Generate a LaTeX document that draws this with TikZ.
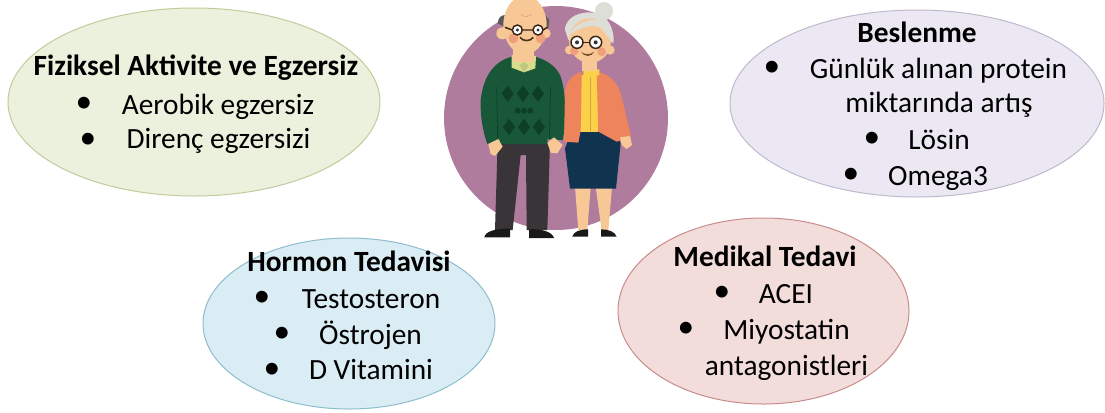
\documentclass[tikz,border=0pt]{standalone}
\usepackage{fontspec}
\setmainfont{Carlito}
\definecolor{skinc}{RGB}{247,200,150}
\definecolor{blushc}{RGB}{238,160,125}
\definecolor{sweaterc}{RGB}{24,88,56}
\definecolor{diamondc}{RGB}{14,62,38}
\definecolor{collarc}{RGB}{214,222,140}
\definecolor{trousersc}{RGB}{56,52,56}
\definecolor{cardiganc}{RGB}{238,132,92}
\definecolor{blousec}{RGB}{252,208,72}
\definecolor{skirtc}{RGB}{16,52,80}
\definecolor{hairc}{RGB}{222,222,216}
\definecolor{greenb}{RGB}{236,241,222}
\definecolor{greene}{RGB}{190,205,155}
\definecolor{purpleb}{RGB}{236,232,243}
\definecolor{purplee}{RGB}{190,185,205}
\definecolor{blueb}{RGB}{219,237,244}
\definecolor{bluee}{RGB}{140,190,205}
\definecolor{redb}{RGB}{243,221,219}
\definecolor{rede}{RGB}{200,140,140}
\tikzset{
  bubble/.style 2 args={draw=#2,fill=#1,line width=0.75pt},
  itemtext/.style={font=\fontsize{22pt}{24pt}\selectfont,inner sep=0pt,anchor=base},
  titletext/.style={itemtext,font=\fontsize{22pt}{24pt}\selectfont\bfseries},
  dotmark/.style={font=\fontsize{25pt}{25pt}\selectfont,inner sep=0pt},
  spec/.style={draw=black!70!brown,line width=1.1pt,fill=white},
}
\newcommand{\tile}[2]{\fill[diamondc] (#1-18,#2) -- (#1,#2-25) -- (#1+18,#2) -- (#1,#2+25) -- cycle;}
\begin{document}
\begin{tikzpicture}[x=0.75pt,y=0.75pt,yscale=-1]
\useasboundingbox (0,0) rectangle (1105,412);

%Backdrop disc
\fill [color={rgb, 255:red, 176; green, 124; blue, 158 }] (556,118) circle [radius=112];

%Bubbles
\draw [bubble={greenb}{greene}] (194,102) ellipse [x radius=186,y radius=94];
\draw [bubble={purpleb}{purplee}] (917,103.5) ellipse [x radius=187,y radius=93.5];
\draw [bubble={blueb}{bluee}] (349,323.5) ellipse [x radius=146,y radius=85.5];
\draw [bubble={redb}{rede}] (763.5,311) ellipse [x radius=145.5,y radius=93];

%Couple
\begin{scope}[shift={(430,0)},x=0.25pt,y=0.25pt]
%man legs and shoes
\fill [trousersc] (203,425) -- (360,425) -- (352,690) -- (290,690) -- (288,465) -- (272,465) -- (248,690) -- (195,690) -- cycle;
\fill [black!90] (163,712) .. controls (165,695) and (195,685) .. (240,686) -- (240,712) -- cycle;
\fill [black!90] (297,688) .. controls (330,685) and (368,695) .. (372,714) -- (297,714) -- cycle;
%man jumper
\fill [sweaterc] (245,170) .. controls (190,185) and (160,230) .. (152,300) .. controls (150,350) and (160,400) .. (172,432) -- (208,418) -- (208,432) -- (352,432) -- (352,418) -- (398,420) .. controls (410,360) and (408,270) .. (390,225) .. controls (375,195) and (345,178) .. (315,170) -- cycle;
\draw [diamondc,line width=0.5pt] (200,260) -- (203,418) (362,260) -- (358,418);
\tile{233}{281}\tile{279}{281}\tile{324}{281}
\tile{237}{381}\tile{282}{381}\tile{327}{381}
\fill [diamondc] (263,332) circle [radius=9] (282,332) circle [radius=9] (301,332) circle [radius=9];
%man collar
\fill [collarc] (245,165) -- (318,168) -- (316,205) -- (282,217) -- (245,203) -- cycle;
\fill [collarc!90!black] (268,196) -- (282,187) -- (296,196) -- (282,217) -- cycle;
%man hands
\fill [skinc] (175,432) -- (205,417) -- (218,440) -- (195,468) -- (182,462) -- cycle;
\fill [skinc] (352,428) -- (372,412) -- (398,435) -- (382,460) -- (362,458) -- cycle;
%man head
\fill [skinc] (250,130) rectangle (312,185);
\fill [gray!70!black] (203,70) .. controls (205,50) and (215,45) .. (228,45) -- (235,85) -- cycle;
\fill [gray!70!black] (345,45) -- (358,60) -- (355,85) -- (345,85) -- cycle;
\fill [skinc] (217,100) circle [radius=18] (347,100) circle [radius=15];
\fill [skinc] (285,75) ellipse [x radius=65,y radius=88];
\fill [blushc] (250,115) circle [radius=15] (332,115) circle [radius=15];
\draw [spec] (262,90) circle [radius=15] (324,90) circle [radius=15];
\draw [spec] (277,90) -- (309,90) (247,90) -- (225,82) (339,90) -- (352,82);
\fill [black!80] (262,90) circle [radius=5] (324,90) circle [radius=5];
\draw [black!60!brown,line width=1.2pt] (270,112) .. controls (280,125) and (300,125) .. (310,112);
\draw [blushc,line width=0.6pt] (272,42) .. controls (282,52) and (295,52) .. (305,42);
%woman legs and shoes
\fill [skinc] (435,560) -- (482,560) -- (472,692) -- (445,692) -- cycle;
\fill [skinc] (497,560) -- (546,560) -- (535,692) -- (515,692) -- cycle;
\fill [black!90] (427,710) .. controls (430,695) and (450,688) .. (474,688) -- (474,710) -- cycle;
\fill [black!90] (513,688) .. controls (535,688) and (555,695) .. (560,710) -- (513,710) -- cycle;
%woman skirt
\fill [skirtc] (425,395) -- (555,395) -- (572,430) -- (558,566) -- (420,566) -- (405,445) -- cycle;
%woman top
\fill [blousec] (450,225) rectangle (505,395);
\draw [blousec!80!black,line width=0.6pt] (480,232) -- (480,392);
\fill [cardiganc] (455,215) .. controls (425,225) and (408,245) .. (405,275) -- (402,425) -- (445,428) -- (452,392) -- (455,240) -- cycle;
\fill [cardiganc] (500,215) .. controls (540,222) and (565,250) .. (575,290) -- (603,410) -- (570,422) -- (560,425) -- (505,395) -- cycle;
\fill [skinc] (570,412) -- (600,408) -- (606,435) -- (590,447) -- (575,435) -- cycle;
\fill [blousec] (460,208) -- (508,208) -- (508,225) -- (484,233) -- (460,225) -- cycle;
%woman head
\fill [skinc] (455,170) rectangle (500,212);
\fill [skinc] (418,150) circle [radius=13] (540,150) circle [radius=14];
\fill [hairc] (522,33) circle [radius=27];
\fill [hairc] (405,90) .. controls (405,45) and (470,25) .. (515,45) .. controls (540,60) and (555,100) .. (550,130) -- (480,80) -- (415,120) -- cycle;
\fill [skinc] (480,122) ellipse [x radius=63,y radius=67];
\fill [hairc] (420,105) .. controls (430,70) and (480,55) .. (510,60) .. controls (535,75) and (545,100) .. (545,125) -- (515,85) .. controls (490,70) and (450,80) .. (420,105) -- cycle;
\fill [blushc] (433,153) circle [radius=13] (515,155) circle [radius=13];
\draw [spec] (441,127) circle [radius=18] (497,127) circle [radius=18];
\draw [spec] (459,127) -- (479,127);
\fill [black!80] (441,127) circle [radius=6] (497,127) circle [radius=6];
\fill [brown!60!black] (453,155) .. controls (465,165) and (480,165) .. (493,155) .. controls (485,172) and (462,172) .. (453,155) -- cycle;
\end{scope}

% Text Node
\node (fizTitle) [titletext] at (196,75) {Fiziksel Aktivite ve Egzersiz};
\node (fizA) [itemtext] at (218,114) {Aerobik egzersiz};
\node (fizB) [itemtext] at (218.5,148) {Direnç egzersizi};
\node (fizAdot) [dotmark] at (84,105) {•};
\node (fizBdot) [dotmark] at (88,141) {•};
% Text Node
\node (besTitle) [titletext] at (917,42) {Beslenme};
\node (besA) [itemtext] at (938.5,78) {Günlük alınan protein};
\node (besAb) [itemtext] at (939,112) {miktarında artış};
\node (besB) [itemtext] at (939,149) {Lösin};
\node (besC) [itemtext] at (938,185) {Omega3};
\node (besAdot) [dotmark] at (772,69) {•};
\node (besBdot) [dotmark] at (872,140) {•};
\node (besCdot) [dotmark] at (851,176) {•};
% Text Node
\node (horTitle) [titletext] at (349,271) {Hormon Tedavisi};
\node (horA) [itemtext] at (371,308) {Testosteron};
\node (horB) [itemtext] at (370.5,344) {Östrojen};
\node (horC) [itemtext] at (371,379) {D Vitamini};
\node (horAdot) [dotmark] at (262,299) {•};
\node (horBdot) [dotmark] at (282,335) {•};
\node (horCdot) [dotmark] at (272,371) {•};
% Text Node
\node (medTitle) [titletext] at (765,266) {Medikal Tedavi};
\node (medA) [itemtext] at (786,303) {ACEI};
\node (medB) [itemtext] at (786.5,339) {Miyostatin};
\node (medBb) [itemtext] at (786.5,375) {antagonistleri};
\node (medAdot) [dotmark] at (722,294) {•};
\node (medBdot) [dotmark] at (686,330) {•};
\end{tikzpicture}
\end{document}
